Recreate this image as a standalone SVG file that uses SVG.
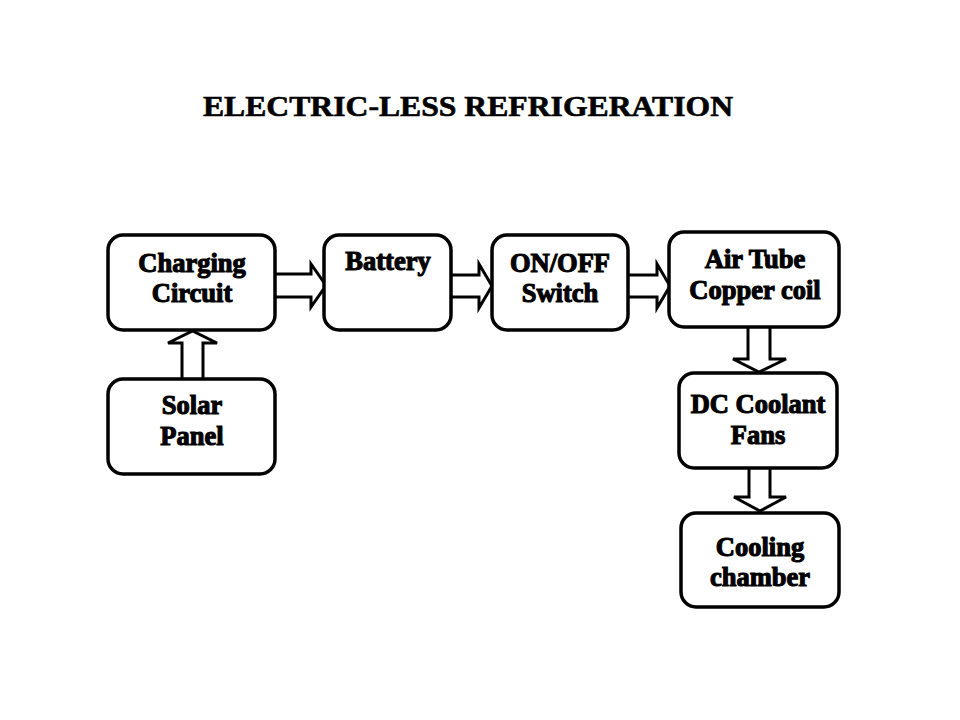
<svg xmlns="http://www.w3.org/2000/svg" width="960" height="720" viewBox="0 0 960 720">
<style>
.box{fill:#fff;stroke:#000;stroke-width:3.5}
.arr{fill:#fff;stroke:#000;stroke-width:3;stroke-linejoin:miter}
.t{font-family:"Liberation Serif","Times New Roman",serif;font-weight:bold;font-size:26.5px;text-anchor:middle;fill:#000;stroke:#000;stroke-width:1.1}
.title{font-family:"Liberation Serif","Times New Roman",serif;font-weight:bold;font-size:29px;fill:#000;stroke:#000;stroke-width:0.6}
</style>
<rect width="960" height="720" fill="#fff"/>
<text class="title" x="203" y="116" textLength="530" lengthAdjust="spacingAndGlyphs">ELECTRIC-LESS REFRIGERATION</text>
<g id="connectors">
<path class="arr" d="M276,274 H311 V264 L326,285.5 L311,307 V297 H276"/>
<path class="arr" d="M452,275 H479 V264 L492,286 L479,308 V297 H452"/>
<path class="arr" d="M629,275 H657 V264 L670,286 L657,308 V297 H629"/>
<path class="arr" d="M182,378 V343 H168 L192.5,331 L217,343 H203 V378"/>
<path class="arr" d="M748,328 V359 H733 L759,372 L786,359 H770 V328"/>
<path class="arr" d="M749,469 V497 H734 L760,511 L786,497 H770 V469"/>
</g>
<g id="charging">
<rect class="box" x="108" y="235" width="167" height="95" rx="15"/>
<text class="t" x="192" y="272">Charging</text>
<text class="t" x="192" y="302">Circuit</text>
</g>
<g id="battery">
<rect class="box" x="324" y="235" width="127" height="95" rx="15"/>
<text class="t" x="388" y="270">Battery</text>
</g>
<g id="switch">
<rect class="box" x="492" y="235" width="136" height="95" rx="15"/>
<text class="t" x="560" y="272">ON/OFF</text>
<text class="t" x="560" y="302">Switch</text>
</g>
<g id="airtube">
<rect class="box" x="669" y="232" width="170" height="95" rx="15"/>
<text class="t" x="755" y="268">Air Tube</text>
<text class="t" x="755" y="299">Copper coil</text>
</g>
<g id="solar">
<rect class="box" x="108" y="379" width="167" height="95" rx="15"/>
<text class="t" x="192" y="414">Solar</text>
<text class="t" x="192" y="445">Panel</text>
</g>
<g id="fans">
<rect class="box" x="679" y="373" width="158" height="95" rx="15"/>
<text class="t" x="758" y="413">DC Coolant</text>
<text class="t" x="758" y="444">Fans</text>
</g>
<g id="chamber">
<rect class="box" x="681" y="513" width="158" height="94" rx="15"/>
<text class="t" x="760" y="556">Cooling</text>
<text class="t" x="760" y="586">chamber</text>
</g>
</svg>
